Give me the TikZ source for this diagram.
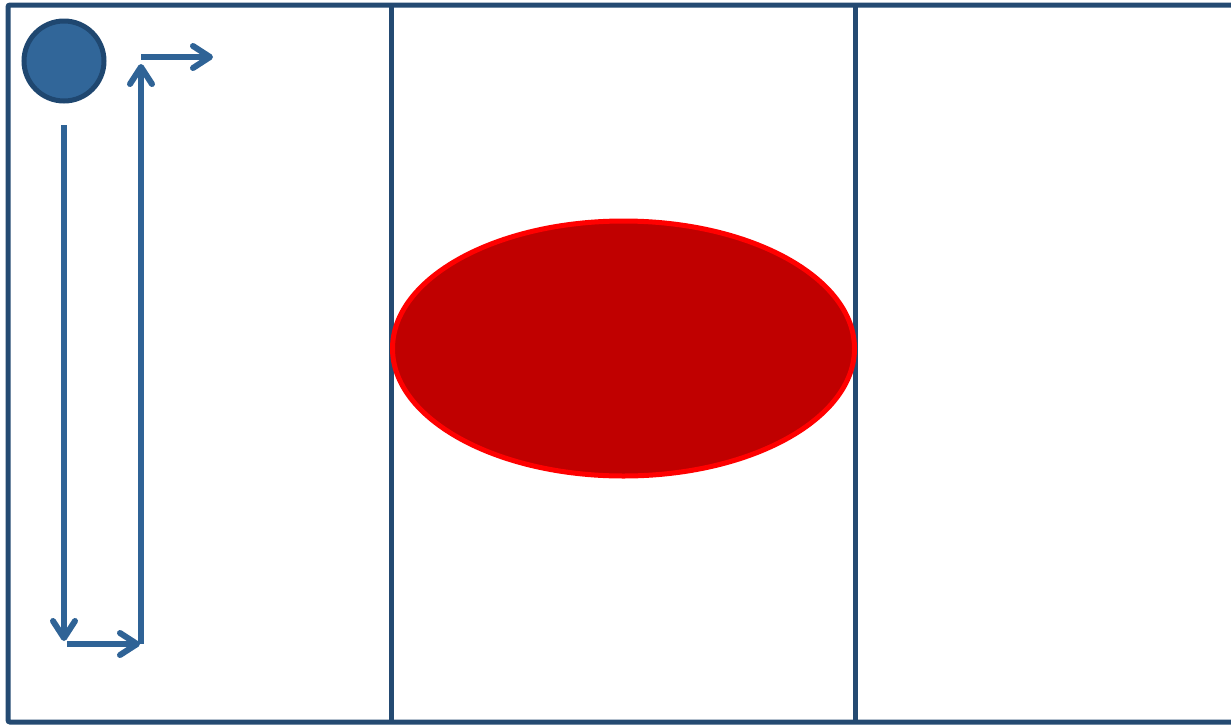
\documentclass[tikz,border=0pt]{standalone}
\usetikzlibrary{arrows.meta,shapes.geometric}
\definecolor{frame}{HTML}{244A72}
\definecolor{flow}{HTML}{2F6396}
\definecolor{dotfill}{HTML}{316699}
\definecolor{dotline}{HTML}{1F4770}
\definecolor{darkred}{HTML}{C00000}
\tikzset{
  lane/.style={draw=frame,line width=5pt},
  flowarrow/.style={draw=flow,line width=6pt,-{Straight Barb[length=17pt,width=22pt,line cap=round,line join=round]}},
  startdot/.style={circle,draw=dotline,fill=dotfill,line width=5pt,minimum size=80pt,inner sep=0pt},
  blob/.style={ellipse,draw=red,fill=darkred,line width=5pt,minimum width=462pt,minimum height=255pt,inner sep=0pt}
}
\begin{document}
\begin{tikzpicture}[x=1pt,y=-1pt]
\useasboundingbox (0,0) rectangle (1231,724);
\clip (0,0) rectangle (1231,724);
\draw[lane,rounded corners=2pt] (8,5) rectangle (1240,722);
\draw[lane] (391,5) -- (391,722);
\draw[lane] (855,5) -- (855,722);
\node[startdot] (start) at (64,61) {};
\node[blob] (shape) at (623.5,348.5) {};
\coordinate (a1) at (64,125);
\coordinate (a2) at (64,641);
\coordinate (b1) at (67,644);
\coordinate (b2) at (140,644);
\coordinate (c1) at (141,644);
\coordinate (c2) at (141,64);
\coordinate (d1) at (141,57);
\coordinate (d2) at (213,57);
\draw[flowarrow] (a1) -- (a2);
\draw[flowarrow] (b1) -- (b2);
\draw[flowarrow] (c1) -- (c2);
\draw[flowarrow] (d1) -- (d2);
\end{tikzpicture}
\end{document}
